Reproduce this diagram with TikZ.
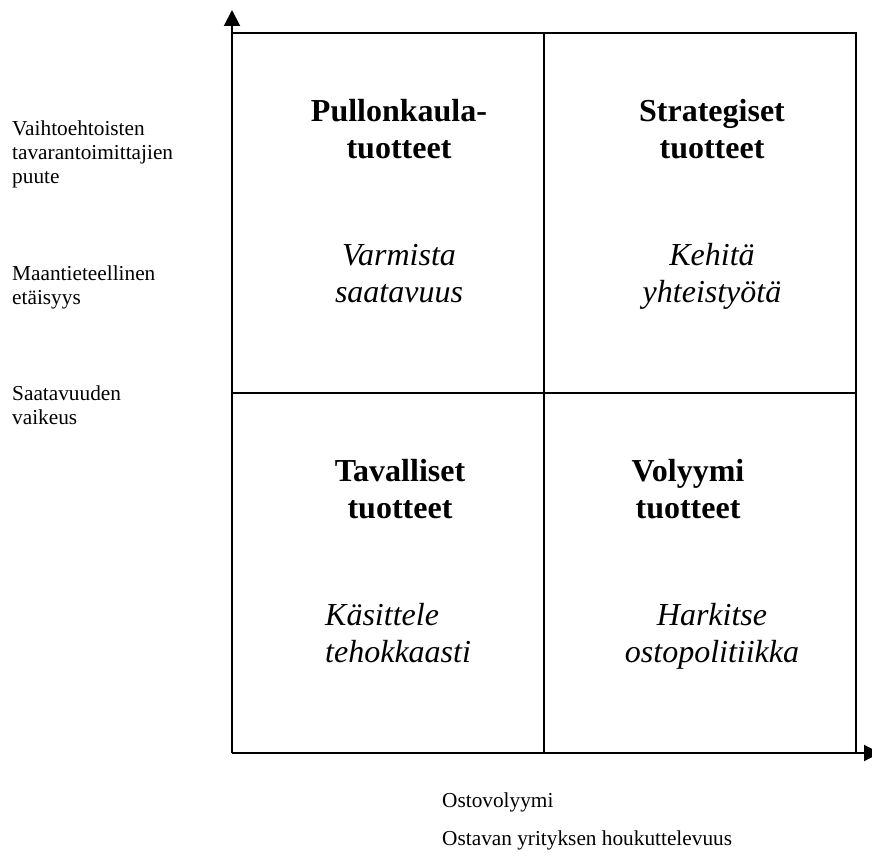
\documentclass[tikz,border=0pt]{standalone}
\usepackage{fontspec}
\setmainfont{Liberation Serif}
\usetikzlibrary{arrows.meta}

\tikzset{
    axis/.style={line width=2pt, -{Triangle[width=16pt,length=16pt]}},
    grid/.style={line width=2pt},
    title/.style={font=\fontsize{32}{37}\selectfont\bfseries, align=center, anchor=base, inner sep=0pt},
    advice/.style={font=\fontsize{32}{37}\selectfont\itshape, align=center, anchor=base, inner sep=0pt},
    factor/.style={font=\fontsize{21.3}{24}\selectfont, align=left, anchor=base west, inner sep=0pt}
}

\begin{document}
\begin{tikzpicture}[x=1pt, y=-1pt]
        \useasboundingbox (0,0) rectangle (872,859);

        \coordinate (origin) at (232,753);
        \coordinate (ytop) at (232,10);
        \coordinate (xend) at (880,753);

        % quadrant grid
        \draw[grid] (232,33) to (856,33) to (856,753);
        \draw[grid] (544,33) to (544,753);
        \draw[grid] (232,393) to (856,393);

        % axes
        \draw[axis] (origin) to (ytop);
        \draw[axis] (origin) to (xend);

        % quadrant texts (base = last line)
        \node[title] (bottleneck) at (399,158){Pullonkaula-\\tuotteet};
        \node[advice] (secure) at (399,302){Varmista\\saatavuus};
        \node[title] (strategic) at (712,158){Strategiset\\tuotteet};
        \node[advice] (develop) at (712,302){Kehitä\\yhteistyötä};
        \node[title] (routine) at (400,518){Tavalliset\\tuotteet};
        \node[advice, align=left, anchor=base west] (handle) at (325,662){Käsittele\\tehokkaasti};
        \node[title] (leverage) at (688,518){Volyymi\\tuotteet};
        \node[advice] (consider) at (712,662){Harkitse\\ostopolitiikka};

        % y axis factors
        \node[factor] (lack) at (12,183){Vaihtoehtoisten\\tavarantoimittajien\\puute};
        \node[factor] (distance) at (12,304){Maantieteellinen\\etäisyys};
        \node[factor] (difficulty) at (12,424){Saatavuuden\\vaikeus};

        % x axis factors
        \node[factor] (volume) at (442,807){Ostovolyymi};
        \node[factor] (attract) at (442,845){Ostavan yrityksen houkuttelevuus};
    \end{tikzpicture}
\end{document}
